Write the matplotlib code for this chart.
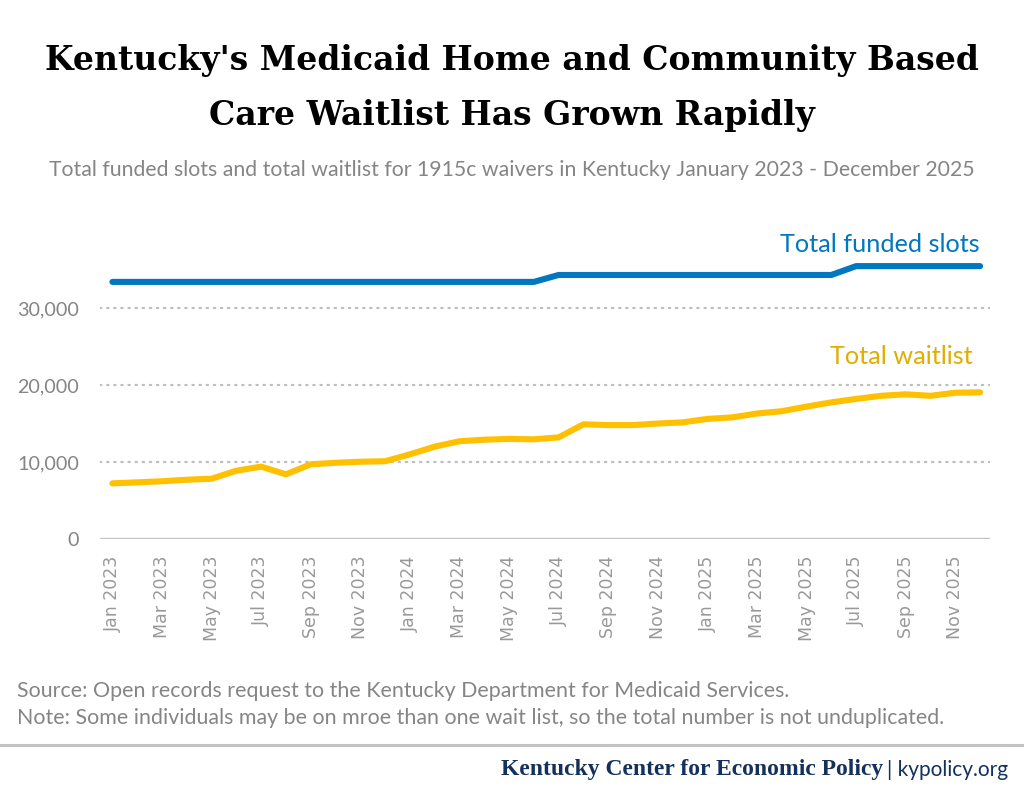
import matplotlib
matplotlib.use("Agg")
import matplotlib.pyplot as plt
from matplotlib.ticker import FuncFormatter

# monthly data, Jan 2023 - Dec 2025
months = [f"{m} {y}" for y in (2023, 2024, 2025)
          for m in ("Jan","Feb","Mar","Apr","May","Jun","Jul","Aug","Sep","Oct","Nov","Dec")]
funded_slots = [33400]*18 + [34300]*12 + [35450]*6
waitlist = [7230, 7360, 7500, 7700, 7830, 8870, 9400, 8400, 9700, 9900, 10040, 10100,
            11000, 12000, 12700, 12900, 13000, 12950, 13200, 14900, 14800, 14800, 15000, 15150,
            15600, 15800, 16300, 16600, 17200, 17750, 18200, 18600, 18800, 18600, 19000, 19050]
yticks = [0, 10000, 20000, 30000]
title_lines = ["Kentucky's Medicaid Home and Community Based", "Care Waitlist Has Grown Rapidly"]

BLUE = "#0077bf"; GOLD = "#ffc000"; GOLD_TXT = "#e0ad00"; GRAY = "#858585"; NAVY = "#13315c"
SANS = ["Lato", "DejaVu Sans"]

fig = plt.figure(figsize=(10.24, 7.88), dpi=100)
ax = fig.add_axes([100/1024, 1-539/788, 890/1024, (539-208)/788])
x = list(range(len(months)))
ax.plot(x, funded_slots, color=BLUE, lw=4.4, solid_capstyle="round", zorder=3)
ax.plot(x, waitlist, color=GOLD, lw=4.4, solid_capstyle="round", zorder=3)

ax.set_xlim(-0.5, 35.4); ax.set_ylim(0, 43000)
ax.set_yticks(yticks)
ax.yaxis.set_major_formatter(FuncFormatter(lambda v, p: f"{int(v):,}"))
for t in yticks[1:]:
    ax.axhline(t, color="#bdbdbd", lw=1.6, ls=(0, (0.6, 2.6)), dash_capstyle="round", zorder=1)
ax.axhline(0, color="#c4c4c4", lw=2.4, zorder=2)
for s in ax.spines.values(): s.set_visible(False)
ax.set_xticks(x[::2])
ax.set_xticklabels(months[::2], rotation=90, fontsize=12.5, color="#999999", family="DejaVu Sans")
ax.tick_params(axis="both", length=0)
ax.tick_params(axis="x", pad=12)
ax.tick_params(axis="y", pad=15)
for lab in ax.get_yticklabels():
    lab.set_fontsize(14.2); lab.set_color(GRAY); lab.set_family(SANS)

ax.text(35, 38200, "Total funded slots", color=BLUE, fontsize=18.2, ha="right", va="center", family=SANS)
ax.text(34.7, 23700, "Total waitlist", color=GOLD_TXT, fontsize=18.2, ha="right", va="center", family=SANS)

fig.text(0.5, 1-70/788, title_lines[0], ha="center", va="baseline", fontsize=23.8,
         fontweight="bold", family=["DejaVu Serif"])
fig.text(0.5, 1-125/788, title_lines[1], ha="center", va="baseline", fontsize=23.8,
         fontweight="bold", family=["DejaVu Serif"])
fig.text(0.5, 1-170/788, "Total funded slots and total waitlist for 1915c waivers in Kentucky January 2023 - December 2025",
         ha="center", va="center", fontsize=15.3, color=GRAY, family=SANS)
fig.text(17/1024, 1-691/788, "Source: Open records request to the Kentucky Department for Medicaid Services.",
         ha="left", va="center", fontsize=15.4, color=GRAY, family=SANS)
fig.text(17/1024, 1-718/788, "Note: Some individuals may be on mroe than one wait list, so the total number is not unduplicated.",
         ha="left", va="center", fontsize=15.4, color=GRAY, family=SANS)
fig.add_artist(plt.Line2D([0, 1], [1-745/788]*2, color="#c4c4c4", lw=2.2, transform=fig.transFigure))
t2 = fig.text(1008/1024, 1-770/788, "| kypolicy.org", ha="right", va="center", fontsize=15, color=NAVY, family=SANS)
fig.canvas.draw()
bb = t2.get_window_extent()
fig.text((bb.x0-4)/1024, 1-770/788, "Kentucky Center for Economic Policy", ha="right", va="center",
         fontsize=17, fontweight="bold", color=NAVY, family=["Liberation Serif"])
fig.savefig("out.png", dpi=100)
